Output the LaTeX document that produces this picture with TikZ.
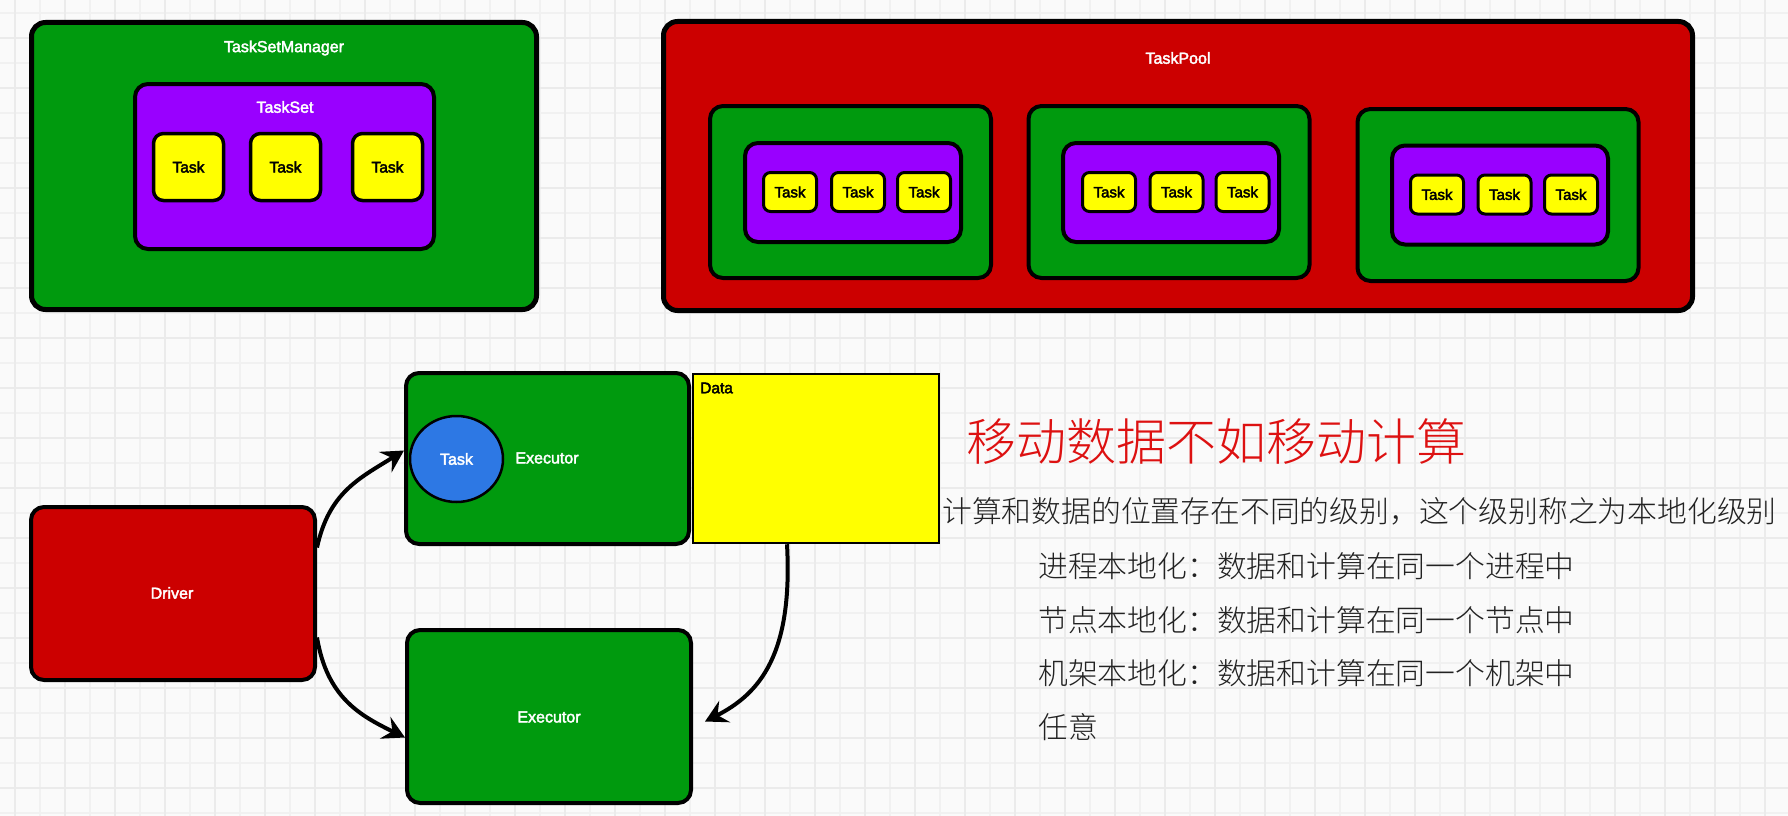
\documentclass[tikz,border=0pt]{standalone}
\usepackage{fontspec}
\setmainfont{Liberation Sans}
\newfontfamily\cjk{Noto Sans CJK SC}[UprightFont={* Light}]
\newcommand\thicktext[1]{\special{pdf:literal direct 2 Tr 0.4 w}#1\special{pdf:literal direct 0 Tr}}
\usetikzlibrary{arrows.meta,shapes.geometric}
\definecolor{bg}{HTML}{FAFAFA}
\definecolor{gridthin}{HTML}{F1F1F1}
\definecolor{gridthick}{HTML}{EBEBEB}
\definecolor{pgreen}{HTML}{009A0E}
\definecolor{pred}{HTML}{CC0000}
\definecolor{ppurple}{HTML}{9900FF}
\definecolor{pyellow}{HTML}{FFFF00}
\definecolor{pblue}{HTML}{2D78E4}
\definecolor{titlered}{HTML}{DD1111}
\definecolor{bodytext}{HTML}{222222}
\tikzset{
  bigbox/.style={draw=black, line width=5pt, rounded corners=14pt, inner sep=0pt},
  midbox/.style={draw=black, line width=4pt, rounded corners=13pt, inner sep=0pt},
  taskbox/.style={draw=black, line width=3.5pt, rounded corners=10pt, fill=pyellow, inner sep=0pt,
    minimum width=70pt, minimum height=67pt, font=\fontsize{15.5}{18}\selectfont},
  smalltask/.style={draw=black, line width=3pt, rounded corners=7pt, fill=pyellow, inner sep=0pt,
    minimum width=53pt, minimum height=39pt, font=\fontsize{15}{17}\selectfont},
  wlabel/.style={text=white, font=\fontsize{16}{18}\selectfont, inner sep=0pt},
  conn/.style={line width=4pt, -{Stealth[length=22pt,width=24pt,inset=8pt]}},
  cjkline/.style={anchor=west, inner sep=0pt, text=bodytext, font=\cjk\fontsize{29.8}{34}\selectfont}
}
\begin{document}
\begin{tikzpicture}[x=1pt,y=-1pt]
\useasboundingbox (0,0) rectangle (1788,816);
\fill[bg] (0,0) rectangle (1788,816);
% grid
\foreach \x in {15,40,...,1790} \draw[gridthin, line width=1.5pt] (\x,0) -- (\x,816);
\foreach \y in {13,38,...,816} \draw[gridthin, line width=1.5pt] (0,\y) -- (1788,\y);
\foreach \x in {15,65,...,1790} \draw[gridthick, line width=2.5pt] (\x,0) -- (\x,816);
\foreach \y in {38,88,...,816} \draw[gridthick, line width=2.5pt] (0,\y) -- (1788,\y);

% TaskSetManager
\node[bigbox, fill=pgreen, minimum width=505pt, minimum height=287pt] (tsm) at (284,166) {};
\node[wlabel] (tsmlabel) at (284,48) {\thicktext{TaskSetManager}};
\node[midbox, fill=ppurple, minimum width=299pt, minimum height=165pt] (ts) at (284.5,166.5) {};
\node[wlabel] (tslabel) at (285,107) {\thicktext{TaskSet}};
\node[taskbox] (t1) at (188.5,167) {\thicktext{Task}};
\node[taskbox] (t2) at (285.5,167) {\thicktext{Task}};
\node[taskbox] (t3) at (387.5,167) {\thicktext{Task}};

% TaskPool
\node[bigbox, fill=pred, minimum width=1029pt, minimum height=289pt] (pool) at (1178,166) {};
\node[wlabel] (poollabel) at (1178,58) {\thicktext{TaskPool}};
\node[midbox, fill=pgreen, minimum width=281pt, minimum height=172pt] (g1) at (850.5,192) {};
\node[midbox, fill=pgreen, minimum width=281pt, minimum height=172pt] (g2) at (1169,192) {};
\node[midbox, fill=pgreen, minimum width=281pt, minimum height=172pt] (g3) at (1498,195) {};
\node[midbox, fill=ppurple, minimum width=216pt, minimum height=99pt] (p1) at (853,192.5) {};
\node[midbox, fill=ppurple, minimum width=216pt, minimum height=99pt] (p2) at (1171,192.5) {};
\node[midbox, fill=ppurple, minimum width=216pt, minimum height=99pt] (p3) at (1500,195) {};
\node[smalltask] (s11) at (790,192) {\thicktext{Task}};
\node[smalltask] (s12) at (858,192) {\thicktext{Task}};
\node[smalltask] (s13) at (924,192) {\thicktext{Task}};
\node[smalltask] (s21) at (1109,192) {\thicktext{Task}};
\node[smalltask] (s22) at (1176.5,192) {\thicktext{Task}};
\node[smalltask] (s23) at (1242.5,192) {\thicktext{Task}};
\node[smalltask] (s31) at (1437,194.5) {\thicktext{Task}};
\node[smalltask] (s32) at (1504.5,194.5) {\thicktext{Task}};
\node[smalltask] (s33) at (1571,194.5) {\thicktext{Task}};

% bottom diagram
\node[midbox, fill=pgreen, minimum width=283pt, minimum height=171pt] (exec1) at (547.5,458.5) {};
\node[wlabel] (exec1label) at (547,458) {\thicktext{Executor}};
\node[ellipse, draw=black, line width=2.5pt, fill=pblue, minimum width=93pt, minimum height=86pt,
  inner sep=0pt] (task) at (456.5,459) {};
\node[wlabel] (tasklabel) at (456.5,459) {\thicktext{Task}};
\node[draw=black, line width=2.5pt, fill=pyellow, minimum width=246pt, minimum height=169pt, inner sep=0pt] (data) at (816,458.5) {};
\node[anchor=west, inner sep=0pt, font=\fontsize{15.5}{18}\selectfont] (datalabel) at (700,388) {\thicktext{Data}};
\node[midbox, fill=pred, minimum width=284pt, minimum height=173pt] (driver) at (173,593.5) {};
\node[wlabel] (driverlabel) at (172,593) {\thicktext{Driver}};
\node[midbox, fill=pgreen, minimum width=284pt, minimum height=173pt] (exec2) at (549,716.5) {};
\node[wlabel] (exec2label) at (549,717) {\thicktext{Executor}};

\draw[conn] ([yshift=46pt]driver.east) .. controls +(12,-55) and +(-45,28) .. ([yshift=8pt]exec1.west);
\draw[conn] ([yshift=-44pt]driver.east) .. controls +(10,60) and +(-45,-22) .. ([yshift=-21pt]exec2.west);
\draw[conn] ([xshift=-29pt]data.south) .. controls +(6,110) and +(55,-28) .. ([xshift=12pt,yshift=-5pt]exec2.east);

% text
\node[anchor=west, inner sep=0pt, text=titlered, font=\cjk\fontsize{50}{60}\selectfont] (title) at (966,442) {移动数据不如移动计算};
\node[cjkline] (l1) at (942,511) {计算和数据的位置存在不同的级别，这个级别称之为本地化级别};
\node[cjkline] (l2) at (1038,566) {进程本地化：数据和计算在同一个进程中};
\node[cjkline] (l3) at (1038,620) {节点本地化：数据和计算在同一个节点中};
\node[cjkline] (l4) at (1038,673) {机架本地化：数据和计算在同一个机架中};
\node[cjkline] (l5) at (1038,727) {任意};
\end{tikzpicture}
\end{document}
